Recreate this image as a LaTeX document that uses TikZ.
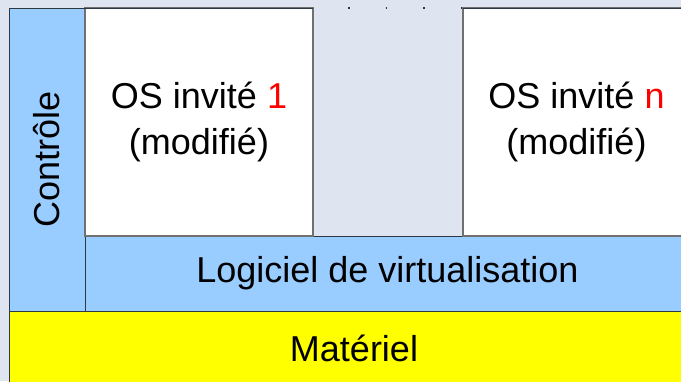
\documentclass[tikz,border=0pt]{standalone}
\usepackage{fontspec}
\setmainfont{Liberation Sans}
\usetikzlibrary{positioning}
\definecolor{fond}{HTML}{DFE5F0}
\definecolor{bleu}{HTML}{99CCFF}
\definecolor{jaune}{HTML}{FFFF00}
\definecolor{bord}{HTML}{2E3842}
\definecolor{gris}{HTML}{707070}

\begin{document}
\begin{tikzpicture}[x=1pt,y=-1pt,
    couche/.style={draw=bord,line width=1pt,inner sep=0pt,outer sep=0pt,
      font=\fontsize{36}{46}\selectfont},
    invite/.style={couche,draw=gris,line width=1.5pt,fill=white,align=center}]
  \useasboundingbox (0,0) rectangle (681,381);
  \fill[fond] (0,0) rectangle (681,381);
  \clip (0,0) rectangle (681,381);
  \node[couche,fill=jaune,anchor=north west,minimum width=690pt,minimum height=74pt]
    (materiel) at (9,311) {Matériel};
  \node[couche,fill=bleu,anchor=north west,minimum width=605pt,minimum height=75pt]
    (logiciel) at (85,236) {Logiciel de virtualisation};
  \node[couche,fill=bleu,rotate=90,minimum width=303pt,minimum height=76pt]
    (controle) at (47,159.5) {Contrôle};
  \node[invite,anchor=north west,minimum width=228pt,minimum height=228pt]
    (invite1) at (85,8) {OS invité \textcolor{red}{1}\\(modifié)};
  \node[invite,anchor=north west,minimum width=227pt,minimum height=228pt]
    (inviten) at (463,8) {OS invité \textcolor{red}{n}\\(modifié)};
  \draw[bord,line width=1pt] (controle.north east) -- (invite1.north east);
  \draw[bord,line width=1pt] (inviten.north west) -- (inviten.north east);
  \draw[bord,line width=1.2pt,dash pattern=on 1.5pt off 36pt]
    ([xshift=35pt]invite1.north east) -- (inviten.north west);
\end{tikzpicture}
\end{document}
